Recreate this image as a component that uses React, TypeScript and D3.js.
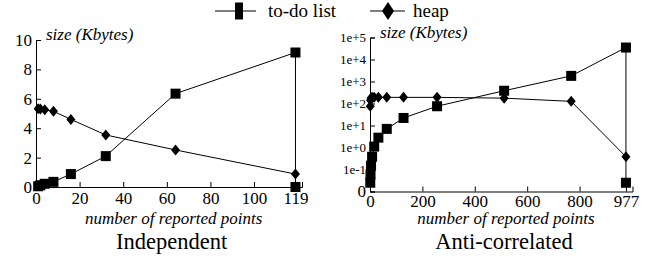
import React from 'react';
import * as d3 from 'd3';

// Independent panel
const indTodoX = [1, 2, 4, 8, 16, 32, 64, 119, 119];
const indTodoY = [0.05, 0.12, 0.22, 0.35, 0.88, 2.1, 6.35, 9.15, 0];
const indHeapX = [1, 2, 4, 8, 16, 32, 64, 119];
const indHeapY = [5.32, 5.3, 5.25, 5.15, 4.6, 3.54, 2.52, 0.88];
const indXTicks = [0, 20, 40, 60, 80, 100, 119];
const indYTicks = [0, 2, 4, 6, 8, 10];

// Anti-correlated panel
const antiTodoX = [1, 2, 4, 8, 16, 32, 64, 128, 256, 512, 768, 977, 977];
const antiTodoY = [0.025, 0.06, 0.15, 0.38, 1.1, 2.8, 7, 22, 75, 380, 1800, 35000, 0.025];
const antiHeapX = [1, 2, 4, 8, 16, 32, 64, 128, 256, 512, 768, 977];
const antiHeapY = [75, 140, 180, 190, 190, 190, 190, 190, 190, 175, 125, 0.38];
const antiXTicks = [0, 200, 400, 600, 800, 977];
const antiYTicks = [0.01, 0.1, 1, 10, 100, 1000, 10000, 100000];
const antiYLabels = ['0', '1e-1', '1e+0', '1e+1', '1e+2', '1e+3', '1e+4', '1e+5'];

const FONT = 'Liberation Serif, Times New Roman, Times, DejaVu Serif, serif';

const App: React.FC = () => {
  const svgRef = React.useRef<SVGSVGElement>(null);

  React.useEffect(() => {
    if (!svgRef.current) return;
    const svg = d3.select(svgRef.current);
    svg.selectAll('*').remove();

    const drawSquare = (g: any, x: number, y: number, w: number, h: number) => {
      g.append('rect')
        .attr('x', x - w / 2)
        .attr('y', y - h / 2)
        .attr('width', w)
        .attr('height', h)
        .attr('fill', '#000');
    };
    const drawDiamond = (g: any, x: number, y: number, w: number, h: number) => {
      g.append('path')
        .attr('d', `M${x},${y - h / 2}L${x + w / 2},${y}L${x},${y + h / 2}L${x - w / 2},${y}Z`)
        .attr('fill', '#000');
    };

    const panel = (
      xs: d3.ScaleLinear<number, number>,
      ys: any,
      xTicks: number[],
      yTicks: number[],
      yFmt: (d: number, i: number) => string,
      yFont: number,
      xPad: number,
      series: { x: number[]; y: number[]; kind: string }[],
      title: string,
      sizeX: number,
      sizeY: number
    ) => {
      const g = svg.append('g');
      const x0 = xs.range()[0];
      const yBase = ys.range()[0];

      // X axis, ticks pointing inwards
      const xa = g.append('g')
        .attr('transform', `translate(0,${yBase})`)
        .call(d3.axisBottom(xs).tickValues(xTicks).tickSizeInner(-5).tickSizeOuter(-5).tickPadding(xPad).tickFormat(d3.format('d') as any));
      xa.attr('font-family', FONT).attr('font-size', 17);
      xa.selectAll('text').attr('fill', '#000');
      xa.selectAll('path, line').attr('stroke', '#000');

      // Y axis
      const ya = g.append('g')
        .attr('transform', `translate(${x0},0)`)
        .call(d3.axisLeft(ys).tickValues(yTicks).tickSizeInner(-5).tickSizeOuter(-5).tickPadding(4).tickFormat(yFmt as any));
      ya.attr('font-family', FONT).attr('font-size', yFont);
      ya.selectAll('text').attr('fill', '#000')
        .filter(function () { return d3.select(this).text() === '0'; })
        .attr('font-size', 17);
      ya.selectAll('path, line').attr('stroke', '#000');

      // Lines and markers
      series.forEach(s => {
        const pts: [number, number][] = s.x.map((v, i) => [xs(v), ys(s.y[i])]);
        g.append('path')
          .attr('d', d3.line()(pts))
          .attr('fill', 'none')
          .attr('stroke', '#000')
          .attr('stroke-width', 1);
        pts.forEach(([px, py]) => {
          if (s.kind === 'square') drawSquare(g, px, py, 10, 10);
          else drawDiamond(g, px, py, 9, 11);
        });
      });

      const cx = (xs.range()[0] + xs(xTicks[xTicks.length - 1])) / 2;

      g.append('text')
        .attr('x', sizeX)
        .attr('y', sizeY)
        .attr('font-family', FONT)
        .attr('font-style', 'italic')
        .attr('font-size', 17)
        .text('size (Kbytes)');

      g.append('text')
        .attr('x', cx + 8)
        .attr('y', 224)
        .attr('text-anchor', 'middle')
        .attr('font-family', FONT)
        .attr('font-style', 'italic')
        .attr('font-size', 17)
        .text('number of reported points');

      g.append('text')
        .attr('x', cx + 6)
        .attr('y', 249)
        .attr('text-anchor', 'middle')
        .attr('font-family', FONT)
        .attr('font-size', 22.5)
        .text(title);
    };

    // Independent
    const xInd = d3.scaleLinear().domain([0, 122]).range([36, 302]);
    const yInd = d3.scaleLinear().domain([0, 10]).range([187, 40]);
    panel(xInd, yInd, indXTicks, indYTicks, (d) => String(d), 17, 5,
      [
        { x: indTodoX, y: indTodoY, kind: 'square' },
        { x: indHeapX, y: indHeapY, kind: 'diamond' },
      ], 'Independent', 46, 40);

    // Anti-correlated
    const xAnti = d3.scaleLinear().domain([0, 1002]).range([370, 632.5]);
    const yAnti = d3.scaleLog().domain([0.01, 100000]).range([191.5, 37.5]);
    panel(xAnti, yAnti, antiXTicks, antiYTicks, (_d, i) => antiYLabels[i], 13, 3,
      [
        { x: antiTodoX, y: antiTodoY, kind: 'square' },
        { x: antiHeapX, y: antiHeapY, kind: 'diamond' },
      ], 'Anti-correlated', 380, 38);

    // Legend
    const lg = svg.append('g').attr('font-family', FONT).attr('font-size', 19);
    lg.append('line').attr('x1', 215).attr('x2', 256).attr('y1', 11).attr('y2', 11).attr('stroke', '#000');
    drawSquare(lg, 239, 11, 8, 17);
    lg.append('text').attr('x', 268).attr('y', 17).text('to-do list');
    lg.append('line').attr('x1', 370).attr('x2', 405).attr('y1', 11).attr('y2', 11).attr('stroke', '#000');
    drawDiamond(lg, 388, 11, 12, 18);
    lg.append('text').attr('x', 413).attr('y', 17).text('heap');
  }, []);

  return (
    <svg ref={svgRef} width={649} height={257} viewBox="0 0 649 257"
      style={{ position: 'absolute', left: 0, top: 0, background: '#fff' }} />
  );
};

export default App;
